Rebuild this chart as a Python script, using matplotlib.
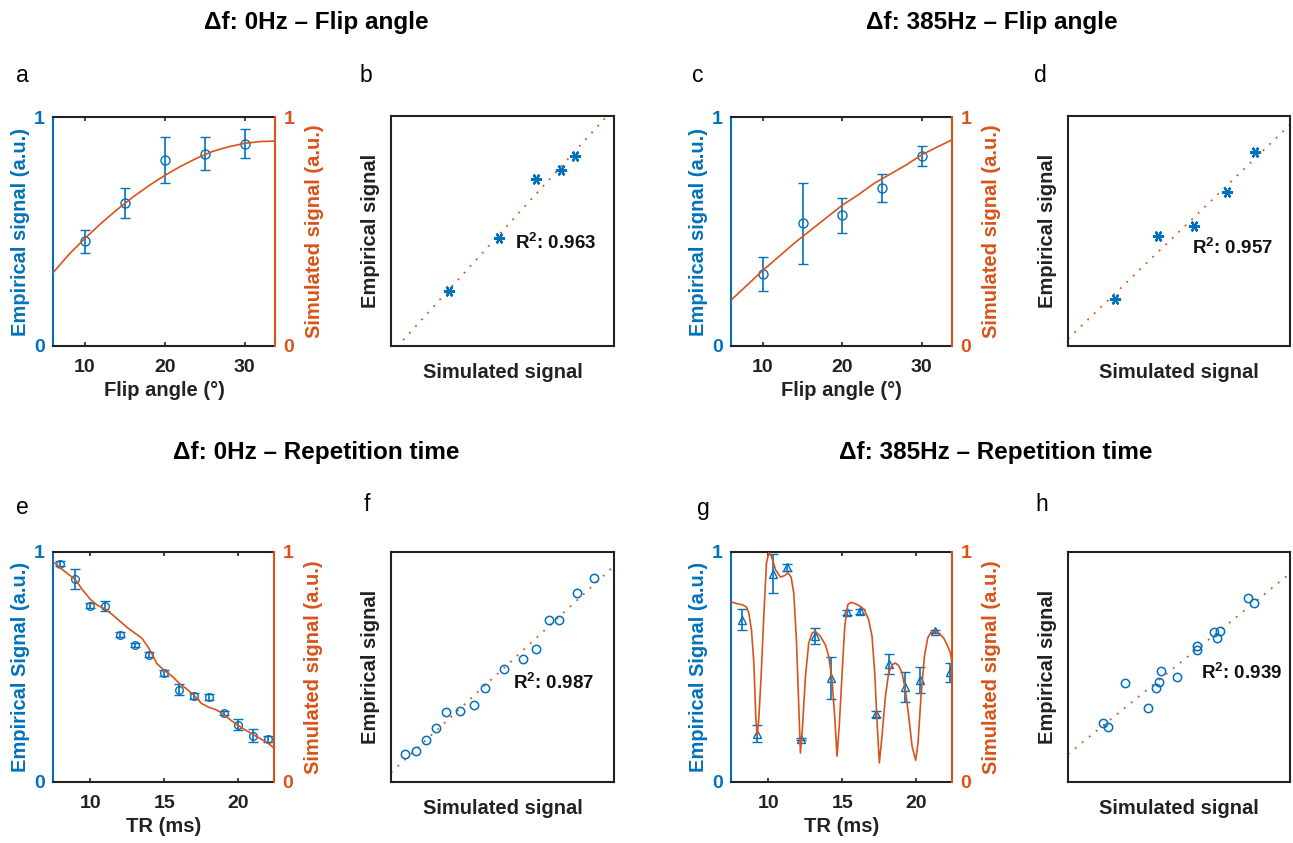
import numpy as np
import matplotlib
matplotlib.use("Agg")
import matplotlib.pyplot as plt

# colours (MATLAB default order)
BLUE = "#0072BD"
ORANGE = "#D95319"

## Data
# a: df 0Hz, flip angle
fa = [10, 15, 20, 25, 30]
emp_a = [0.457, 0.624, 0.811, 0.840, 0.884]
err_a = [0.050, 0.067, 0.100, 0.073, 0.062]
sim_fa_x = [6, 8, 10, 12, 14, 16, 18, 20, 22, 24, 26, 28, 30, 32, 33.8]
sim_a = [0.32, 0.40, 0.47, 0.535, 0.595, 0.65, 0.70, 0.745, 0.785, 0.82, 0.85, 0.87, 0.885, 0.893, 0.895]
# b: simulated signal at the measured flip angles
sim_b = [0.470, 0.634, 0.754, 0.836, 0.884]

# c: df 385Hz, flip angle
emp_c = [0.314, 0.535, 0.570, 0.690, 0.830]
err_c = [0.074, 0.178, 0.077, 0.059, 0.044]
sim_c = [0.20, 0.265, 0.33, 0.39, 0.45, 0.505, 0.56, 0.615, 0.66, 0.71, 0.75, 0.79, 0.835, 0.87, 0.90]
# d
sim_d = [0.331, 0.484, 0.615, 0.734, 0.835]

# e: df 0Hz, repetition time
tr_e = [8, 9, 10, 11, 12, 13, 14, 15, 16, 17, 18, 19, 20, 21, 22]
emp_e = [0.949, 0.883, 0.767, 0.764, 0.641, 0.597, 0.554, 0.474, 0.401, 0.375, 0.370, 0.300, 0.249, 0.201, 0.187]
err_e = [0.010, 0.042, 0.012, 0.022, 0.012, 0.008, 0.010, 0.014, 0.023, 0.012, 0.012, 0.010, 0.023, 0.029, 0.015]
sim_tr_x = [7.5, 8.0, 8.5, 9.0, 9.5, 10.0, 10.5, 11.0, 11.5, 12.0, 12.5, 13.0, 13.5, 14.0, 14.5,
            15.0, 15.5, 16.0, 16.5, 17.0, 17.5, 18.0, 18.5, 19.0, 19.5, 20.0, 20.5, 21.0, 21.5, 22.0, 22.4]
sim_e = [0.958, 0.930, 0.905, 0.880, 0.835, 0.795, 0.768, 0.752, 0.728, 0.700, 0.672, 0.648, 0.625, 0.578, 0.515,
         0.485, 0.462, 0.430, 0.405, 0.378, 0.342, 0.325, 0.314, 0.295, 0.268, 0.245, 0.225, 0.206, 0.188, 0.168, 0.148]
# f
sim_f = [0.929, 0.862, 0.788, 0.746, 0.694, 0.642, 0.568, 0.488, 0.445, 0.388, 0.330, 0.290, 0.251, 0.209, 0.167]

# g: df 385Hz, repetition time
tr_g = [8.25, 9.26, 10.31, 11.28, 12.25, 13.19, 14.27, 15.33, 16.22, 17.28, 18.13, 19.26, 20.27, 21.23, 22.29]
emp_g = [0.706, 0.210, 0.906, 0.933, 0.187, 0.636, 0.452, 0.738, 0.742, 0.296, 0.514, 0.413, 0.445, 0.655, 0.477]
err_g = [0.045, 0.038, 0.084, 0.015, 0.006, 0.035, 0.090, 0.012, 0.012, 0.012, 0.043, 0.065, 0.056, 0.008, 0.042]
sim_g_x = [7.53, 7.91, 8.25, 8.54, 8.70, 8.88, 9.04, 9.17, 9.26, 9.37, 9.53, 9.71, 9.89, 10.05, 10.23, 10.5,
           10.83, 11.1, 11.35, 11.55, 11.73, 11.91, 12.07, 12.18, 12.31, 12.52, 12.74, 12.97, 13.19, 13.53,
           13.86, 14.09, 14.31, 14.49, 14.65, 14.81, 14.99, 15.17, 15.37, 15.59, 15.89, 16.22, 16.49, 16.78,
           17.01, 17.19, 17.35, 17.5, 17.68, 17.91, 18.13, 18.36, 18.58, 18.81, 19.03, 19.26, 19.48, 19.71,
           19.95, 20.11, 20.31, 20.54, 20.76, 20.98, 21.28, 21.55, 21.84, 22.11, 22.29, 22.4]
sim_g = [0.783, 0.775, 0.771, 0.761, 0.735, 0.662, 0.517, 0.286, 0.199, 0.271, 0.459, 0.720, 0.952, 0.996, 0.981, 0.923,
         0.891, 0.897, 0.909, 0.891, 0.822, 0.619, 0.329, 0.126, 0.228, 0.459, 0.604, 0.648, 0.655, 0.633,
         0.597, 0.546, 0.445, 0.286, 0.112, 0.257, 0.474, 0.677, 0.771, 0.781, 0.775, 0.764, 0.749, 0.706,
         0.633, 0.474, 0.257, 0.083, 0.199, 0.372, 0.474, 0.510, 0.517, 0.506, 0.474, 0.401, 0.286, 0.155,
         0.094, 0.170, 0.372, 0.546, 0.626, 0.651, 0.655, 0.645, 0.626, 0.590, 0.561, 0.517]
# h
sim_h = [0.753, 0.137, 0.956, 0.923, 0.164, 0.648, 0.442, 0.740, 0.771, 0.380, 0.455, 0.426, 0.257, 0.645, 0.540]

r2 = ["0.963", "0.957", "0.987", "0.939"]

W, H = 1293, 843
plt.rcParams["font.family"] = ["Liberation Sans", "DejaVu Sans"]
plt.rcParams["font.weight"] = "bold"
plt.rcParams["axes.labelweight"] = "bold"
plt.rcParams["mathtext.fontset"] = "custom"
plt.rcParams["mathtext.rm"] = "Liberation Sans:bold"
plt.rcParams["mathtext.default"] = "rm"

fig = plt.figure(figsize=(W / 100, H / 100), dpi=100)


def px_rect(l, t, r, b):
    return [l / W, 1 - b / H, (r - l) / W, (b - t) / H]


def signal_panel(rect, x, emp, err, cx, cy, xlim, xticks, marker, ms, xlabel, ylabel):
    ax = fig.add_axes(rect)
    ax.errorbar(x, emp, yerr=err, fmt=marker, color=BLUE, mfc="none", ms=ms, mew=1.0,
                elinewidth=1.2, capsize=3.5, capthick=1.2)
    ax.set_xlim(xlim)
    ax.set_ylim(0, 1)
    ax.set_xticks(xticks)
    ax.set_yticks([0, 1])
    ax2 = ax.twinx()
    ax2.plot(cx, cy, color=ORANGE, lw=1.2)
    ax2.set_ylim(0, 1)
    ax2.set_yticks([0, 1])
    # spines
    for s in ["left", "top", "bottom"]:
        ax2.spines[s].set_visible(False)
    ax.spines["right"].set_visible(False)
    ax.spines["left"].set_color(BLUE)
    ax2.spines["right"].set_color(ORANGE)
    for sp in list(ax.spines.values()) + list(ax2.spines.values()):
        sp.set_linewidth(1.5)
    ax.spines["top"].set_color("#222222")
    ax.spines["bottom"].set_color("#222222")
    ax.tick_params(axis="x", direction="in", top=True, length=3, width=1.2,
                   labelsize=14, pad=9, colors="#222222")
    ax.tick_params(axis="y", length=0, labelsize=14, pad=6, labelcolor=BLUE)
    ax2.tick_params(axis="y", length=0, labelsize=14, pad=6, labelcolor=ORANGE)
    ax.set_xlabel(xlabel, fontsize=14.5, color="#222222", labelpad=4)
    ax.set_ylabel(ylabel, fontsize=14.5, color=BLUE, labelpad=3)
    ax2.set_ylabel("Simulated signal (a.u.)", fontsize=14.5, color=ORANGE, labelpad=8)
    return ax


def scatter_panel(rect, sim, emp, xlim, ylim, marker, ms, r2txt, txy):
    ax = fig.add_axes(rect)
    # regression line through the points
    k, c = np.polyfit(sim, emp, 1)
    xx = np.array(xlim)
    ax.plot(xx, k * xx + c, color=ORANGE, lw=1.3, dashes=(1, 4))
    if marker == "*":
        ax.plot(sim, emp, ls="none", marker=(6, 2, 90), color=BLUE, ms=8, mew=1.6)
    else:
        ax.plot(sim, emp, ls="none", marker="o", color=BLUE, mfc="none", ms=ms, mew=1.1)
    ax.set_xlim(xlim)
    ax.set_ylim(ylim)
    ax.set_xticks([])
    ax.set_yticks([])
    for sp in ax.spines.values():
        sp.set_linewidth(1.5)
        sp.set_color("#222222")
    ax.set_xlabel("Simulated signal", fontsize=14.5, color="#222222", labelpad=12)
    ax.set_ylabel("Empirical signal", fontsize=14.5, color="#222222", labelpad=8)
    ax.text(txy[0], txy[1], "R$^2$: " + r2txt, transform=ax.transAxes, fontsize=13.5,
            fontweight="bold", ha="left", va="center", color="#111111")
    return ax


fa_lim = (6, 33.8)
tr_lim = (7.5, 22.4)

signal_panel(px_rect(53, 117, 275, 346), fa, emp_a, err_a, sim_fa_x, sim_a, fa_lim, [10, 20, 30],
             "o", 6.5, "Flip angle (°)", "Empirical signal (a.u.)")
scatter_panel(px_rect(391, 116, 614, 346), sim_b, emp_a, (0.278, 1.011), (0.283, 1.012),
              "*", 8, r2[0], (0.556, 0.448))
signal_panel(px_rect(731, 117, 952, 346), fa, emp_c, err_c, sim_fa_x, sim_c, fa_lim, [10, 20, 30],
             "o", 6.5, "Flip angle (°)", "Empirical signal (a.u.)")
scatter_panel(px_rect(1068, 116, 1290, 346), sim_d, emp_c, (0.162, 0.959), (0.150, 0.957),
              "*", 8, r2[1], (0.56, 0.426))
signal_panel(px_rect(53, 552, 274, 782), tr_e, emp_e, err_e, sim_tr_x, sim_e, tr_lim, [10, 15, 20],
             "o", 5.5, "TR (ms)", "Empirical Signal (a.u.)")
scatter_panel(px_rect(391, 552, 614, 782), sim_f, emp_e, (0.11, 1.01), (0.068, 1.059),
              "o", 6, r2[2], (0.547, 0.43))
signal_panel(px_rect(731, 552, 952, 782), tr_g, emp_g, err_g, sim_g_x, sim_g, tr_lim, [10, 15, 20],
             "^", 6, "TR (ms)", "Empirical Signal (a.u.)")
scatter_panel(px_rect(1068, 552, 1290, 782), sim_h, emp_g, (-0.05, 1.15), (-0.130, 1.202),
              "o", 6, r2[3], (0.60, 0.474))

# titles
titles = ["Δf: 0Hz – Flip angle", "Δf: 385Hz – Flip angle",
          "Δf: 0Hz – Repetition time", "Δf: 385Hz – Repetition time"]
tpos = [(316, 22), (992, 22), (316, 452), (996, 452)]
for t, (x, y) in zip(titles, tpos):
    fig.text(x / W, 1 - y / H, t, fontsize=17.5, fontweight="bold", ha="center", va="center")

# panel letters
letters = list("abcdefgh")
lpos = [(22, 75), (366, 75), (698, 75), (1040, 75), (22, 507), (367, 505), (703, 508), (1042, 505)]
for l, (x, y) in zip(letters, lpos):
    fig.text(x / W, 1 - y / H, l, fontsize=16.5, fontweight="normal", ha="center", va="center")

fig.savefig("out.png", dpi=100)
